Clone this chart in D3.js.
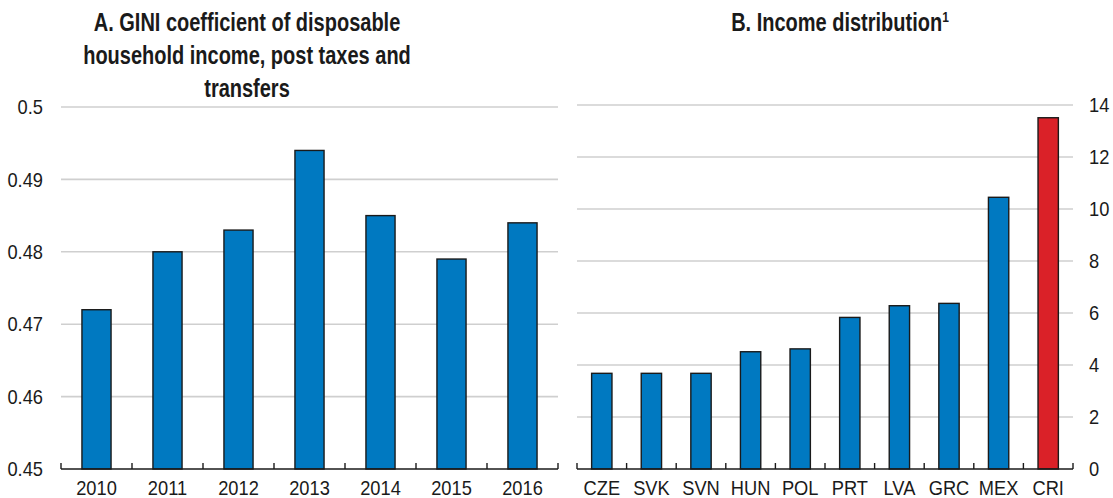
<!DOCTYPE html>
<html>
<head>
<meta charset="utf-8">
<script src="https://cdn.jsdelivr.net/npm/d3@7"></script>
<style>
  body { margin: 0; background: #fff; }
  svg { display: block; }
  text { font-family: "Liberation Sans", Arial, sans-serif; fill: #1a1a1a; }
  .title { font-weight: bold; font-size: 25px; }
  .tick text { font-size: 21px; }
</style>
</head>
<body>
<svg id="chart" width="1113" height="498"></svg>
<script>
// Panel A: GINI coefficient by year
const years = ["2010", "2011", "2012", "2013", "2014", "2015", "2016"];
const giniValues = [0.472, 0.480, 0.483, 0.494, 0.485, 0.479, 0.484];
const giniTicks = [0.45, 0.46, 0.47, 0.48, 0.49, 0.5];

// Panel B: income distribution by country
const countries = ["CZE", "SVK", "SVN", "HUN", "POL", "PRT", "LVA", "GRC", "MEX", "CRI"];
const incomeValues = [3.68, 3.68, 3.68, 4.51, 4.62, 5.83, 6.28, 6.37, 10.45, 13.51];
const incomeTicks = [0, 2, 4, 6, 8, 10, 12, 14];
const highlightCountry = "CRI";

const BLUE = "#0079C1";
const RED = "#DA2128";
const GRID = "#cfcfcf";
const LABEL_SQUEEZE = 0.87;   // narrow look for tick labels
const TITLE_SQUEEZE = 0.80;   // narrow look for bold titles

const svg = d3.select("#chart");

// Horizontally compress text in place, keeping its anchor point.
function squeeze(sel, k) {
  sel.each(function () {
    const t = d3.select(this);
    const x = +t.attr("x") || 0;
    t.attr("x", 0).attr("transform", `translate(${x},0) scale(${k},1)`);
  });
}

function drawPanel(cfg) {
  const g = svg.append("g");
  const x = d3.scaleBand()
    .domain(cfg.categories)
    .range([cfg.x0, cfg.x1])
    .paddingInner(0.59)
    .paddingOuter(0.295);
  const y = d3.scaleLinear().domain(cfg.domain).range([cfg.bottom, cfg.top]);

  // horizontal gridlines
  g.append("g").selectAll("line")
    .data(cfg.ticks.filter(t => t !== cfg.domain[0]))
    .join("line")
    .attr("x1", cfg.x0).attr("x2", cfg.x1)
    .attr("y1", d => y(d)).attr("y2", d => y(d))
    .attr("stroke", GRID).attr("stroke-width", 1.6);

  // bars
  g.append("g").selectAll("rect")
    .data(cfg.categories.map((c, i) => ({ c, v: cfg.values[i] })))
    .join("rect")
    .attr("x", d => x(d.c))
    .attr("width", x.bandwidth())
    .attr("y", d => y(d.v))
    .attr("height", d => y(cfg.domain[0]) - y(d.v))
    .attr("fill", d => d.c === cfg.highlight ? RED : BLUE)
    .attr("stroke", "#1a1a1a")
    .attr("stroke-width", 1.4);

  // baseline with inward ticks between categories
  g.append("line")
    .attr("x1", cfg.x0).attr("x2", cfg.x1)
    .attr("y1", cfg.bottom).attr("y2", cfg.bottom)
    .attr("stroke", "#1a1a1a").attr("stroke-width", 1.6);
  const step = x.step();
  const edges = d3.range(cfg.categories.length + 1).map(i => cfg.x0 + i * step);
  g.append("g").selectAll("line")
    .data(edges)
    .join("line")
    .attr("x1", d => d).attr("x2", d => d)
    .attr("y1", cfg.bottom).attr("y2", cfg.bottom - 6)
    .attr("stroke", "#1a1a1a").attr("stroke-width", 1.4);

  // category labels
  const xAxis = d3.axisBottom(x).tickSize(0).tickPadding(11);
  g.append("g")
    .attr("transform", `translate(0,${cfg.bottom})`)
    .call(xAxis)
    .call(a => a.select(".domain").remove())
    .call(a => squeeze(a.selectAll("text"), LABEL_SQUEEZE));

  // value labels
  const yAxis = (cfg.side === "left" ? d3.axisLeft(y) : d3.axisRight(y))
    .tickValues(cfg.ticks)
    .tickFormat(cfg.format)
    .tickSize(0)
    .tickPadding(cfg.side === "left" ? 18 : 16);
  g.append("g")
    .attr("transform", `translate(${cfg.side === "left" ? cfg.x0 : cfg.x1},0)`)
    .call(yAxis)
    .call(a => a.select(".domain").remove())
    .call(a => squeeze(a.selectAll("text"), LABEL_SQUEEZE));

  // title
  const t = g.append("text").attr("class", "title")
    .attr("text-anchor", "middle")
    .attr("transform", `translate(${cfg.titleX},0) scale(${TITLE_SQUEEZE},1)`);
  cfg.title.forEach((line, i) => {
    t.append("tspan").attr("x", 0).attr("y", 31 + i * 33).text(line);
  });
  return t;
}

drawPanel({
  categories: years, values: giniValues, ticks: giniTicks,
  domain: [0.45, 0.5], x0: 61, x1: 558, top: 107, bottom: 469,
  side: "left", format: d3.format(""), highlight: null,
  titleX: 247,
  title: ["A. GINI coefficient of disposable", "household income, post taxes and", "transfers"]
});

const tB = drawPanel({
  categories: countries, values: incomeValues, ticks: incomeTicks,
  domain: [0, 14], x0: 577, x1: 1073, top: 105, bottom: 469,
  side: "right", format: d3.format("d"), highlight: highlightCountry,
  titleX: 840,
  title: []
});
tB.append("tspan").attr("x", 0).attr("y", 31).text("B. Income distribution");
tB.append("tspan").attr("dy", -9).attr("font-size", 15).text("1");
</script>
</body>
</html>
